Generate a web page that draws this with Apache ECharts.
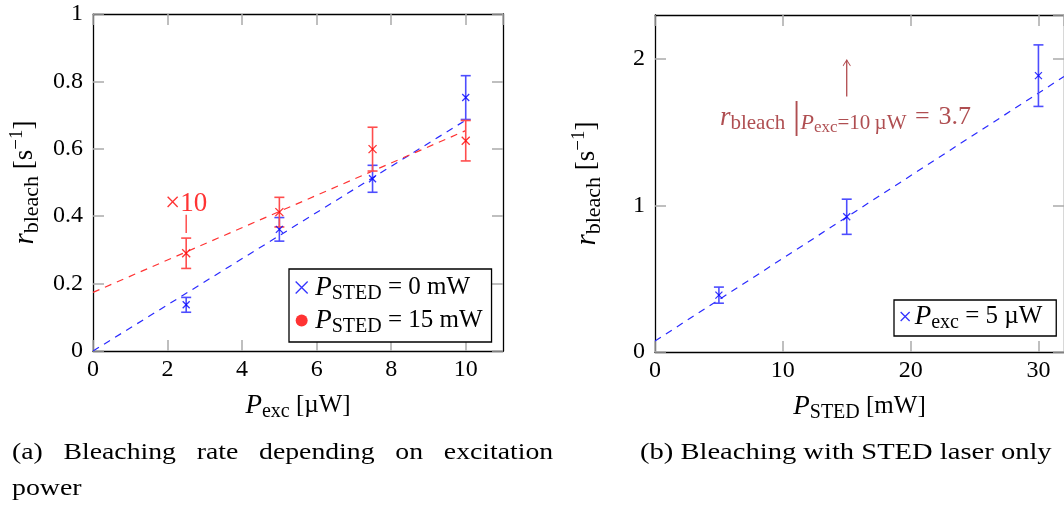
<!DOCTYPE html>
<html>
<head>
<meta charset="utf-8">
<script src="https://cdn.jsdelivr.net/npm/echarts@6/dist/echarts.min.js"></script>
<style>
html,body{margin:0;padding:0;background:#fff;}
#c{width:1064px;height:507px;}
</style>
</head>
<body>
<div id="c"></div>
<script>
// ---- data ----
const excPower = [2.5, 5, 7.5, 10];
const rateSted0 = [0.137, 0.361, 0.511, 0.752];
const errSted0 = [0.022, 0.035, 0.040, 0.065];
const rateSted15 = [0.290, 0.412, 0.599, 0.624];
const errSted15 = [0.045, 0.044, 0.065, 0.060];
const fitExcX = [0, 10];
const fitSted0Y = [0, 0.685];
const fitSted15Y = [0.174, 0.654];
const markX10 = [2.5, 0.435];          // "×10" label anchor
const markX10Line = [0.404, 0.350];    // short red tick under label
const stedPower = [5, 15, 30];
const rateExc5 = [0.388, 0.923, 1.886];
const errExc5 = [0.055, 0.12, 0.21];
const fitStedX = [0, 32];
const fitExc5Y = [0.075, 1.88];
const arrowX = 15;
const arrowY = [1.744, 1.995];
const noteAnchor = [14.9, 1.6];
const xTicksA = {min: 0, max: 11, interval: 2};
const yTicksA = {min: 0, max: 1, interval: 0.2};
const xTicksB = {min: 0, max: 32, interval: 10};
const yTicksB = {min: 0, max: 2.3, interval: 1};
const captionA1 = '(a)   Bleaching   rate   depending   on   excitation';
const captionA2 = 'power';
const captionB = '(b) Bleaching with STED laser only';

const FONT = 'Liberation Serif';
const BLUE = '#0000ff', BLUE_ERR = '#4d4dff', BLUE_FIT = '#2a2aff';
const RED = '#ff0000', RED_ERR = '#ff4d4d', RED_FIT = '#ff3333';
const DARKRED = '#9b2226';
const CROSS = 'path://M0,0L10,10M10,0L0,10';
const SP = '\u2005';

const pts = (xs, ys) => xs.map((x, i) => [x, ys[i]]);
const errs = (xs, ys, es) => xs.map((x, i) => [x, ys[i], es[i]]);

function errRender(color) {
  return function (params, api) {
    const x = api.value(0), y = api.value(1), e = api.value(2);
    const lo = api.coord([x, y - e]), hi = api.coord([x, y + e]);
    const w = 5;
    const st = {stroke: color, lineWidth: 1.6};
    return {type: 'group', children: [
      {type: 'line', shape: {x1: lo[0], y1: lo[1], x2: hi[0], y2: hi[1]}, style: st},
      {type: 'line', shape: {x1: lo[0]-w, y1: lo[1], x2: lo[0]+w, y2: lo[1]}, style: st},
      {type: 'line', shape: {x1: hi[0]-w, y1: hi[1], x2: hi[0]+w, y2: hi[1]}, style: st}
    ]};
  };
}

const rich = {
  i: {fontFamily: FONT, fontStyle: 'italic', fontSize: 27, color: '#000'},
  n: {fontFamily: FONT, fontSize: 25, color: '#000'},
  sub: {fontFamily: FONT, fontSize: 20, color: '#000', padding: [13, 0, 0, 0]},
  sup: {fontFamily: FONT, fontSize: 18, color: '#000', padding: [0, 0, 14, 0]}
};
const richY = {
  i: {fontFamily: FONT, fontStyle: 'italic', fontSize: 29, color: '#000'},
  n: {fontFamily: FONT, fontSize: 27, color: '#000'},
  sub: {fontFamily: FONT, fontSize: 22, color: '#000', padding: [14, 0, 0, 0]},
  sup: {fontFamily: FONT, fontSize: 19, color: '#000', padding: [0, 0, 16, 0]}
};
const richRed = {
  i: {fontFamily: FONT, fontStyle: 'italic', fontSize: 27, color: DARKRED},
  n: {fontFamily: FONT, fontSize: 26, color: DARKRED},
  bar: {fontFamily: FONT, fontSize: 38, color: DARKRED},
  sub: {fontFamily: FONT, fontSize: 21, color: DARKRED, padding: [12, 0, 0, 0]},
  subi: {fontFamily: FONT, fontStyle: 'italic', fontSize: 22, color: DARKRED, padding: [12, 0, 0, 0]},
  subs: {fontFamily: FONT, fontSize: 17, color: DARKRED, padding: [20, 0, 0, 0]}
};

function mainAxisX(grid, t, name) {
  return {type: 'value', gridIndex: grid, min: t.min, max: t.max, interval: t.interval,
    name: name, nameLocation: 'middle', nameGap: 38,
    nameTextStyle: {rich: rich},
    axisLine: {show: true, lineStyle: {color: '#000', width: 1.3}},
    axisTick: {show: true, inside: true, length: 11, lineStyle: {color: '#aaa', width: 1.5}},
    axisLabel: {fontFamily: FONT, fontSize: 24, color: '#000', margin: 7, showMaxLabel: false},
    splitLine: {show: false}};
}
function mainAxisY(grid, t, name, showMax) {
  return {type: 'value', gridIndex: grid, min: t.min, max: t.max, interval: t.interval,
    name: name, nameLocation: 'middle', nameGap: 50, nameRotate: 90,
    nameTextStyle: {rich: richY},
    axisLine: {show: true, lineStyle: {color: '#000', width: 1.3}},
    axisTick: {show: true, inside: true, length: 11, lineStyle: {color: '#aaa', width: 1.5}},
    axisLabel: {fontFamily: FONT, fontSize: 24, color: '#000', margin: 10, showMaxLabel: showMax},
    splitLine: {show: false}};
}
function mirror(grid, t, pos) {
  return {type: 'value', gridIndex: grid, position: pos, min: t.min, max: t.max, interval: t.interval,
    axisLine: {show: true, onZero: false, lineStyle: {color: '#000', width: 1.3}},
    axisTick: {show: true, inside: true, length: 11, lineStyle: {color: '#aaa', width: 1.5}},
    axisLabel: {show: false}, splitLine: {show: false}};
}

const chart = echarts.init(document.getElementById('c'), null, {renderer: 'canvas'});
const option = {
  animation: false,
  backgroundColor: '#fff',
  grid: [
    {left: 93, top: 14, width: 410, height: 337},
    {left: 655, top: 15, width: 410, height: 337}
  ],
  xAxis: [
    mainAxisX(0, xTicksA, '{i|P}{sub|exc}{n| [µW]}'),
    mirror(0, xTicksA, 'top'),
    mainAxisX(1, xTicksB, '{i|P}{sub|STED}{n| [mW]}'),
    mirror(1, xTicksB, 'top')
  ],
  yAxis: [
    mainAxisY(0, yTicksA, '{i|r}{sub|bleach}{n| [s}{sup|−1}{n|]}', true),
    mirror(0, yTicksA, 'right'),
    mainAxisY(1, yTicksB, '{i|r}{sub|bleach}{n| [s}{sup|−1}{n|]}', false),
    mirror(1, yTicksB, 'right')
  ],
  legend: [
    {left: 289, top: 269, orient: 'vertical', itemGap: 3, itemWidth: 13, itemHeight: 12,
     padding: [5, 9, 5, 6], borderColor: '#000', borderWidth: 1.3, backgroundColor: '#fff',
     data: [{name: 's0', icon: CROSS, itemStyle: {color: 'transparent', borderColor: BLUE, borderWidth: 1.3}},
            {name: 's15', icon: 'circle', itemStyle: {color: RED, borderWidth: 0}}],
     formatter: n => n === 's0' ? '{i|P}{sub|STED}{n|' + SP + '= 0 mW}' : '{i|P}{sub|STED}{n|' + SP + '= 15 mW}',
     textStyle: {rich: rich, padding: [0, 0, 0, 2]}},
    {left: 894, top: 300, orient: 'vertical', itemWidth: 9, itemHeight: 9, itemGap: 0,
     padding: [3, 14, 3, 6], borderColor: '#000', borderWidth: 1.3, backgroundColor: '#fff',
     data: [{name: 'e5', icon: CROSS, itemStyle: {color: 'transparent', borderColor: BLUE, borderWidth: 1.3}}],
     formatter: () => '{i|P}{sub|exc}{n|' + SP + '= 5 µW}',
     textStyle: {rich: rich}}
  ],
  series: [
    {type: 'line', xAxisIndex: 0, yAxisIndex: 0, data: pts(fitExcX, fitSted0Y), symbol: 'none',
     lineStyle: {color: BLUE_FIT, width: 1.2, type: [7, 6]}, silent: true, z: 2},
    {type: 'line', xAxisIndex: 0, yAxisIndex: 0, data: pts(fitExcX, fitSted15Y), symbol: 'none',
     lineStyle: {color: RED_FIT, width: 1.2, type: [7, 6]}, silent: true, z: 2},
    {type: 'custom', xAxisIndex: 0, yAxisIndex: 0, data: errs(excPower, rateSted0, errSted0),
     renderItem: errRender(BLUE_ERR), z: 3},
    {type: 'custom', xAxisIndex: 0, yAxisIndex: 0, data: errs(excPower, rateSted15, errSted15),
     renderItem: errRender(RED_ERR), z: 3},
    {name: 's0', type: 'scatter', xAxisIndex: 0, yAxisIndex: 0, data: pts(excPower, rateSted0),
     symbol: CROSS, symbolSize: 7, itemStyle: {color: 'transparent', borderColor: BLUE, borderWidth: 1.3}, z: 4},
    {name: 's15', type: 'scatter', xAxisIndex: 0, yAxisIndex: 0, data: pts(excPower, rateSted15),
     symbol: CROSS, symbolSize: 8, itemStyle: {color: 'transparent', borderColor: RED, borderWidth: 1.3}, z: 4},
    {type: 'line', xAxisIndex: 0, yAxisIndex: 0, data: [[markX10[0], markX10Line[0]], [markX10[0], markX10Line[1]]],
     symbol: 'none', lineStyle: {color: RED_FIT, width: 1.3}, silent: true, z: 3},
    {type: 'scatter', xAxisIndex: 0, yAxisIndex: 0, data: [markX10], symbolSize: 0, silent: true,
     label: {show: true, position: 'inside', formatter: '×10', fontFamily: FONT, fontSize: 27, color: RED}},

    {type: 'line', xAxisIndex: 2, yAxisIndex: 2, data: pts(fitStedX, fitExc5Y), symbol: 'none',
     lineStyle: {color: BLUE_FIT, width: 1.2, type: [7, 6]}, silent: true, z: 2},
    {type: 'custom', xAxisIndex: 2, yAxisIndex: 2, data: errs(stedPower, rateExc5, errExc5),
     renderItem: errRender(BLUE_ERR), z: 3},
    {name: 'e5', type: 'scatter', xAxisIndex: 2, yAxisIndex: 2, data: pts(stedPower, rateExc5),
     symbol: CROSS, symbolSize: 7, itemStyle: {color: 'transparent', borderColor: BLUE, borderWidth: 1.3}, z: 4},
    {type: 'line', xAxisIndex: 2, yAxisIndex: 2, data: [[arrowX, arrowY[0]], [arrowX, arrowY[1]]],
     symbol: 'none', lineStyle: {color: '#b04a4e', width: 1.3}, silent: true, z: 3,
     markPoint: {symbol: 'path://M-5,6L0,0L5,6L4.3,6.6L0,1.6L-4.3,6.6Z', symbolSize: [8, 7], symbolOffset: [0, 3],
       itemStyle: {color: '#b04a4e'}, label: {show: false}, silent: true,
       data: [{coord: [arrowX, arrowY[1]]}]}},
    {type: 'scatter', xAxisIndex: 2, yAxisIndex: 2, data: [noteAnchor], symbolSize: 0, silent: true,
     label: {show: true, position: 'inside',
       formatter: '{i|r}{sub|bleach}{bar|\u2009|}{subi|P}{subs|exc}{sub|=10\u2009µW}{n|\u2004=\u20043.7}', rich: richRed}}
  ],
  graphic: [
    {type: 'text', x: 12, y: 441, scaleX: 1.155, style: {text: captionA1, font: '24px "Liberation Serif"', fill: '#000'}},
    {type: 'text', x: 12, y: 477, scaleX: 1.16, style: {text: captionA2, font: '24px "Liberation Serif"', fill: '#000'}},
    {type: 'text', x: 640, y: 441, scaleX: 1.19, style: {text: captionB, font: '24px "Liberation Serif"', fill: '#000'}}
  ]
};
chart.setOption(option);
</script>
</body>
</html>
